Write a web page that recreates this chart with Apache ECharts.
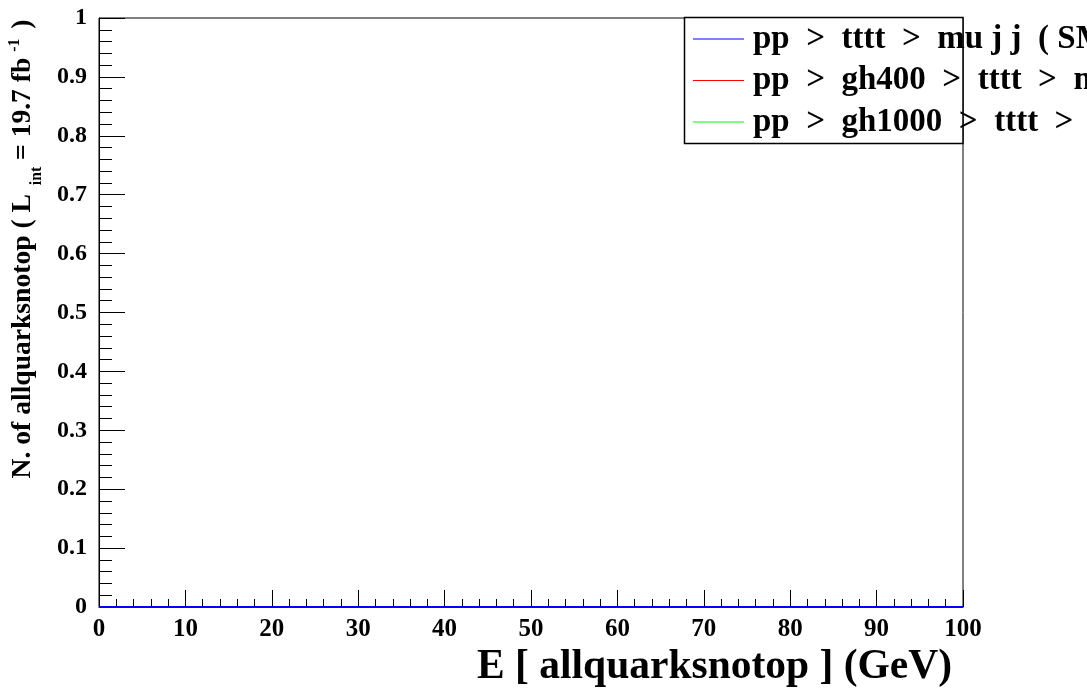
<!DOCTYPE html>
<html>
<head>
<meta charset="utf-8">
<script src="https://cdn.jsdelivr.net/npm/echarts@6/dist/echarts.min.js"></script>
<style>
  html, body { margin: 0; padding: 0; background: #fff; }
  #chart { width: 1087px; height: 692px; }
</style>
</head>
<body>
<div id="chart"></div>
<script>
// Histogram bin edges (GeV) and per-bin event counts
const binEdges = [0, 5, 10, 15, 20, 25, 30, 35, 40, 45, 50, 55, 60, 65, 70, 75, 80, 85, 90, 95, 100];
const smCounts     = [0, 0, 0, 0, 0, 0, 0, 0, 0, 0, 0, 0, 0, 0, 0, 0, 0, 0, 0, 0];
const gh400Counts  = [0, 0, 0, 0, 0, 0, 0, 0, 0, 0, 0, 0, 0, 0, 0, 0, 0, 0, 0, 0];
const gh1000Counts = [0, 0, 0, 0, 0, 0, 0, 0, 0, 0, 0, 0, 0, 0, 0, 0, 0, 0, 0, 0];

const seriesNames = [
  'pp  >  tttt  >  mu j j  ( SM )',
  'pp  >  gh400  >  tttt  >  mu j j',
  'pp  >  gh1000  >  tttt  >  mu j j'
];
const seriesColors = ['#0000ff', '#ff0000', '#00ff00'];

// step-histogram points: one point per bin edge, last bin value repeated
function histPoints(counts) {
  return binEdges.map((e, i) => [e, counts[Math.min(i, counts.length - 1)]]);
}

const FONT = '"Liberation Serif", "Times New Roman", serif';

const chart = echarts.init(document.getElementById('chart'), null, { renderer: 'canvas' });

const makeSeries = (name, color, counts, z) => ({
  name: name,
  type: 'line',
  step: 'end',
  data: histPoints(counts),
  showSymbol: false,
  clip: false,
  z: z,
  lineStyle: { color: color, width: 2 },
  itemStyle: { color: color },
  emphasis: { disabled: true },
  animation: false
});

chart.setOption({
  backgroundColor: '#ffffff',
  animation: false,
  grid: {
    left: 99, top: 18, right: 124, bottom: 85,
    show: true, borderColor: '#000', borderWidth: 1, backgroundColor: '#fff'
  },
  xAxis: {
    type: 'value',
    min: 0, max: 100, interval: 10,
    axisLine: { show: true, lineStyle: { color: '#000', width: 1 } },
    axisTick: { show: true, inside: true, length: 17, lineStyle: { color: '#000', width: 1 } },
    minorTick: { show: true, splitNumber: 5, length: 8, lineStyle: { color: '#000', width: 1 } },
    splitLine: { show: false },
    minorSplitLine: { show: false },
    axisLabel: { color: '#000', fontFamily: FONT, fontWeight: 'bold', fontSize: 25, margin: 10 }
  },
  yAxis: {
    type: 'value',
    min: 0, max: 1, interval: 0.1,
    axisLine: { show: true, lineStyle: { color: '#000', width: 1 } },
    axisTick: { show: true, inside: true, length: 26, lineStyle: { color: '#000', width: 1 } },
    minorTick: { show: true, splitNumber: 5, length: 13, lineStyle: { color: '#000', width: 1 } },
    splitLine: { show: false },
    minorSplitLine: { show: false },
    axisLabel: { color: '#000', fontFamily: FONT, fontWeight: 'bold', fontSize: 24, margin: 12 }
  },
  legend: {
    show: true,
    orient: 'vertical',
    left: 693, top: 22.5,
    padding: 0,
    itemWidth: 51, itemHeight: 1,
    itemGap: 8.5,
    icon: 'rect',
    data: seriesNames,
    textStyle: { color: '#000', fontFamily: FONT, fontWeight: 'bold', fontSize: 33, lineHeight: 33, padding: [0, 0, 0, 4] },
    selectedMode: false,
    z: 10
  },
  graphic: [
    {
      type: 'rect', z: 5,
      shape: { x: 684.5, y: 17.5, width: 278.5, height: 126 },
      style: { fill: '#fff', stroke: '#000', lineWidth: 1.5 }
    },
    {
      type: 'text', z: 20,
      x: 952, y: 667,
      style: {
        text: 'E [ allquarksnotop ] (GeV)',
        fill: '#000', font: 'bold 41.5px ' + FONT,
        textAlign: 'right', textVerticalAlign: 'middle'
      }
    },
    {
      type: 'text', z: 20,
      x: 23, y: 249, rotation: Math.PI / 2, scaleX: 0.985,
      style: {
        text: 'N. of allquarksnotop ( L{sub|int}= 19.7 fb{sup|-1})',
        fill: '#000', font: 'bold 28px ' + FONT,
        textAlign: 'center', textVerticalAlign: 'middle',
        rich: {
          sub: { fontSize: 16, fontWeight: 'bold', fontFamily: FONT, fill: '#000', padding: [28, 7, 0, 9] },
          sup: { fontSize: 16, fontWeight: 'bold', fontFamily: FONT, fill: '#000', padding: [0, 10, 16, 6] }
        }
      }
    }
  ],
  series: [
    makeSeries(seriesNames[0], seriesColors[0], smCounts, 4),
    makeSeries(seriesNames[1], seriesColors[1], gh400Counts, 3),
    makeSeries(seriesNames[2], seriesColors[2], gh1000Counts, 2)
  ]
});
</script>
</body>
</html>
